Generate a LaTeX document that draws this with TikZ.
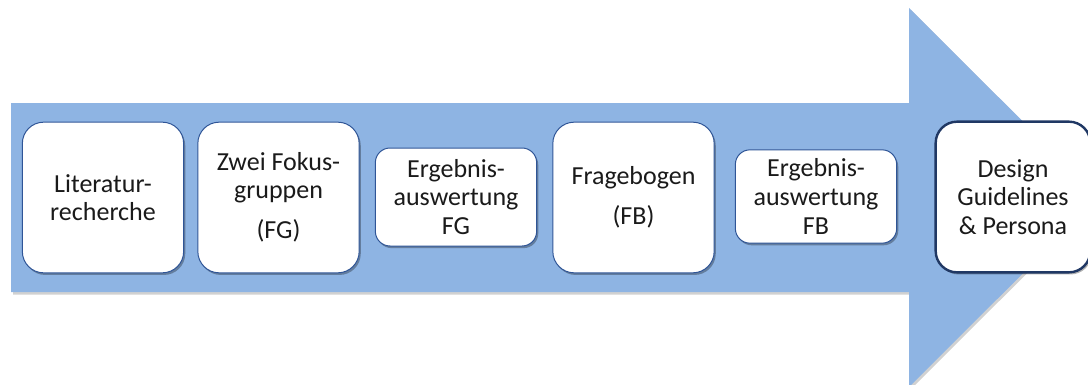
\documentclass[tikz,border=0pt]{standalone}
\usepackage{fontspec}
\setmainfont{Carlito}
\usetikzlibrary{shadows}
\definecolor{arrowblue}{HTML}{8EB4E3}
\definecolor{boxline}{HTML}{2F5597}
\definecolor{finalline}{HTML}{203864}
\definecolor{textdark}{HTML}{1A1A1A}
\begin{document}
\begin{tikzpicture}[x=0.75pt,y=-0.75pt,
  stagebase/.style={draw=boxline, line width=0.75pt, fill=white, align=center,
    text=textdark, inner sep=0pt,
    font=\fontsize{19.5}{21.4}\selectfont,
    drop shadow={shadow xshift=1.2pt, shadow yshift=-1.6pt, opacity=0.3, fill=black}},
  bigstage/.style={stagebase, rounded corners=16pt, minimum width=121pt, minimum height=113pt},
  smallstage/.style={stagebase, rounded corners=11pt, minimum width=121pt}
]
\useasboundingbox (0,0) rectangle (1088,385);
\begin{scope}
  \clip (0,0) rectangle (1088,385);
  % the process arrow and its soft shadow
  \fill[black, opacity=0.18] (13,105) -- (911,105) -- (911,10) -- (1101,199.5)
        -- (911,389) -- (911,294.5) -- (13,294.5) -- cycle;
  \fill[arrowblue] (11,103) -- (909,103) -- (909,8) -- (1099,197.5)
        -- (909,387) -- (909,292) -- (11,292) -- cycle;

  % process stages
  \node[bigstage] (lit) at (103,197.5) {Literatur-\\recherche};
  \node[bigstage] (fokus) at (278.5,197.5) {Zwei Fokus-\\gruppen\\[8.6pt](FG)};
  \node[smallstage, minimum height=73.5pt] (evalfg) at (456,197) {Ergebnis-\\auswertung\\FG};
  \node[bigstage] (frage) at (633.5,197.5) {Fragebogen\\[8.6pt](FB)};
  \node[smallstage, minimum height=70pt] (evalfb) at (816,196.5) {Ergebnis-\\auswertung\\FB};
  \node[bigstage, draw=finalline, line width=1.8pt, minimum width=116pt] (design) at (1013,197)
       {Design\\Guidelines\\\& Persona};
\end{scope}
\end{tikzpicture}
\end{document}
